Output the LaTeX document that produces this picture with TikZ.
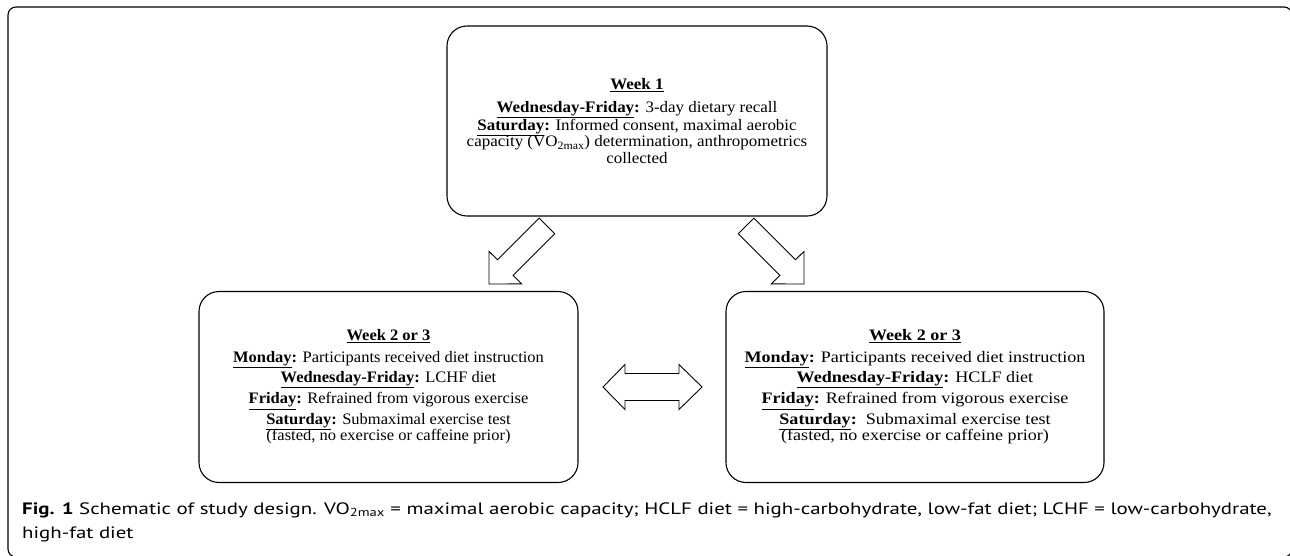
\documentclass[tikz,border=0pt]{standalone}
\usepackage{fontspec}
\setmainfont{Liberation Serif}[FakeStretch=1.06]
\newfontfamily\lchffont{Liberation Serif}[FakeStretch=1.03]
\newfontfamily\hclffont{Liberation Serif}[FakeStretch=1.13]
\newfontfamily\capfont{PT Sans}[FakeStretch=1.265]
\usetikzlibrary{calc}

\newcommand{\daylbl}[1]{\textbf{\underline{#1}:}}
\newcommand{\boxsize}{\fontsize{16}{16.3}\selectfont\lineskiplimit=-20pt\relax}

\begin{document}
\begin{tikzpicture}[x=1pt, y=-1pt,
box/.style = {draw, rounded corners=20, line width=1.1pt, align=center, inner sep=0pt},
blk/.style = {draw, line width=0.9pt, line join=miter},
captxt/.style = {anchor=base west, inner sep=0pt, font=\capfont\fontsize{16.5}{20}\selectfont}
]
\clip (0,0) rectangle (1290,555);
\draw[line width=1.1pt, rounded corners=8] (8,7) rectangle (1292,557);

\node[box, font=\boxsize, minimum width=380, minimum height=190] (wk1) at (637,121) {%
\textbf{\underline{Week 1}}\\[6.2pt]
\daylbl{Wednesday-Friday} 3-day dietary recall\\[1.7pt]
\daylbl{Saturday} Informed consent, maximal aerobic\\
capacity (VO\textsubscript{2max}) determination, anthropometrics\\
collected};

\node[box, font=\lchffont\boxsize, minimum width=379, minimum height=191] (lchf) at (388.5,387) {%
\textbf{\underline{Week 2 or 3}}\\[5.5pt]
\daylbl{Monday} Participants received diet instruction\\[3.8pt]
\daylbl{Wednesday-Friday} LCHF diet\\[4.8pt]
\daylbl{Friday} Refrained from vigorous exercise\\[4.4pt]
\daylbl{Saturday} Submaximal exercise test\\
(fasted, no exercise or caffeine prior)};

\node[box, font=\hclffont\boxsize, minimum width=378, minimum height=191] (hclf) at (915,387) {%
\textbf{\underline{Week 2 or 3}}\\[5.5pt]
\daylbl{Monday} Participants received diet instruction\\[3.8pt]
\daylbl{Wednesday-Friday} HCLF diet\\[4.8pt]
\daylbl{Friday} Refrained from vigorous exercise\\[4.4pt]
\daylbl{Saturday}\ \ Submaximal exercise test\\
(fasted, no exercise or caffeine prior)};

% block arrows from week 1 down to the two diets
\foreach \tx/\s in {489/1, 804/-1}{
\draw[blk] (\tx,284) -- ++(0,-32.6) -- ++(\s*8.5,8.4) -- ++(\s*41.7,-41.7)
  -- ++(\s*15.6,15.6) -- ++(\s*-41.7,41.7) -- ++(\s*8.5,8.5) -- cycle;
}
% crossover
\draw[blk] (603,387) -- (625,364.5) -- (625,373.5) -- (679,373.5) -- (679,364.5)
  -- (702,387) -- (679,409.5) -- (679,400.5) -- (625,400.5) -- (625,409.5) -- cycle;

\node[captxt] (cap1) at (22,514) {\textbf{Fig. 1} Schematic of study design. VO\textsubscript{2max} = maximal aerobic capacity; HCLF diet = high-carbohydrate, low-fat diet; LCHF = low-carbohydrate,};
\node[captxt] (cap2) at (22,538) {high-fat diet};
\end{tikzpicture}
\end{document}
